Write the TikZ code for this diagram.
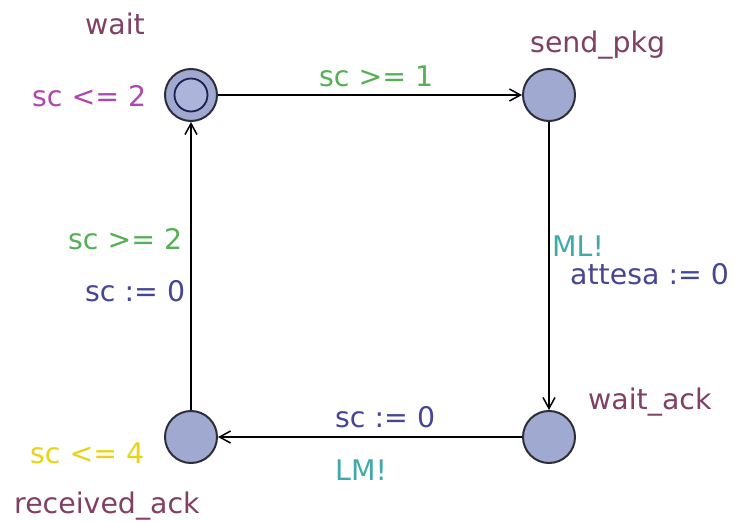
\documentclass[tikz,border=0pt]{standalone}
\usepackage{fontspec}
\setmainfont{DejaVu Sans}
\usetikzlibrary{arrows.meta}
\definecolor{nodefill}{RGB}{160,170,208}
\definecolor{innerfill}{RGB}{172,180,218}
\definecolor{nodeline}{RGB}{45,45,60}
\definecolor{innerline}{RGB}{30,30,80}
\definecolor{namecol}{RGB}{128,64,100}
\definecolor{invcol}{RGB}{176,70,176}
\definecolor{invyel}{RGB}{232,212,20}
\definecolor{guardcol}{RGB}{85,176,85}
\definecolor{synccol}{RGB}{64,170,170}
\definecolor{assigncol}{RGB}{70,70,150}
\tikzset{
  loc/.style={circle, draw=nodeline, fill=nodefill, line width=2bp, minimum size=52bp, inner sep=0pt},
  inner/.style={circle, draw=innerline, fill=innerfill, line width=1.8bp, minimum size=33bp, inner sep=0pt},
  lbl/.style={anchor=mid west, inner sep=0pt, font=\fontsize{28.5}{32}\selectfont},
  edge/.style={line width=1.8bp, draw=black, -{Straight Barb[length=11bp,width=12bp,line width=1.5bp]}}
}
\begin{document}
\begin{tikzpicture}[x=1bp,y=-1bp]
\useasboundingbox (0,0) rectangle (735,522);
\fill[white] (0,0) rectangle (735,522);
% locations
\node[loc] (wait) at (191,95) {};
\node[inner] (waitin) at (191,95) {};
\node[loc] (send) at (549,95) {};
\node[loc] (wack) at (549,437) {};
\node[loc] (rack) at (191,437) {};
% edges
\draw[edge] (wait) -- (send);
\draw[edge] (send) -- (wack);
\draw[edge] (wack) -- (rack);
\draw[edge] (rack) -- (wait);
% location names
\node[lbl, text=namecol] (nwait) at (85,32) {wait};
\node[lbl, text=namecol] (nsend) at (530,50) {send\_pkg};
\node[lbl, text=namecol] (nwack) at (588,407) {wait\_ack};
\node[lbl, text=namecol] (nrack) at (14,511) {received\_ack};
% invariants
\node[lbl, text=invcol] (iwait) at (32,104) {sc <= 2};
\node[lbl, text=invyel] (irack) at (30,461) {sc <= 4};
% edge labels
\node[lbl, text=guardcol] (g1) at (319,84) {sc >= 1};
\node[lbl, text=synccol] (s1) at (552,254) {ML!};
\node[lbl, text=assigncol] (a1) at (570,282) {attesa := 0};
\node[lbl, text=assigncol] (a2) at (335,425) {sc := 0};
\node[lbl, text=synccol] (s2) at (335,478) {LM!};
\node[lbl, text=guardcol] (g2) at (68,247) {sc >= 2};
\node[lbl, text=assigncol] (a3) at (85,299) {sc := 0};
\end{tikzpicture}
\end{document}
